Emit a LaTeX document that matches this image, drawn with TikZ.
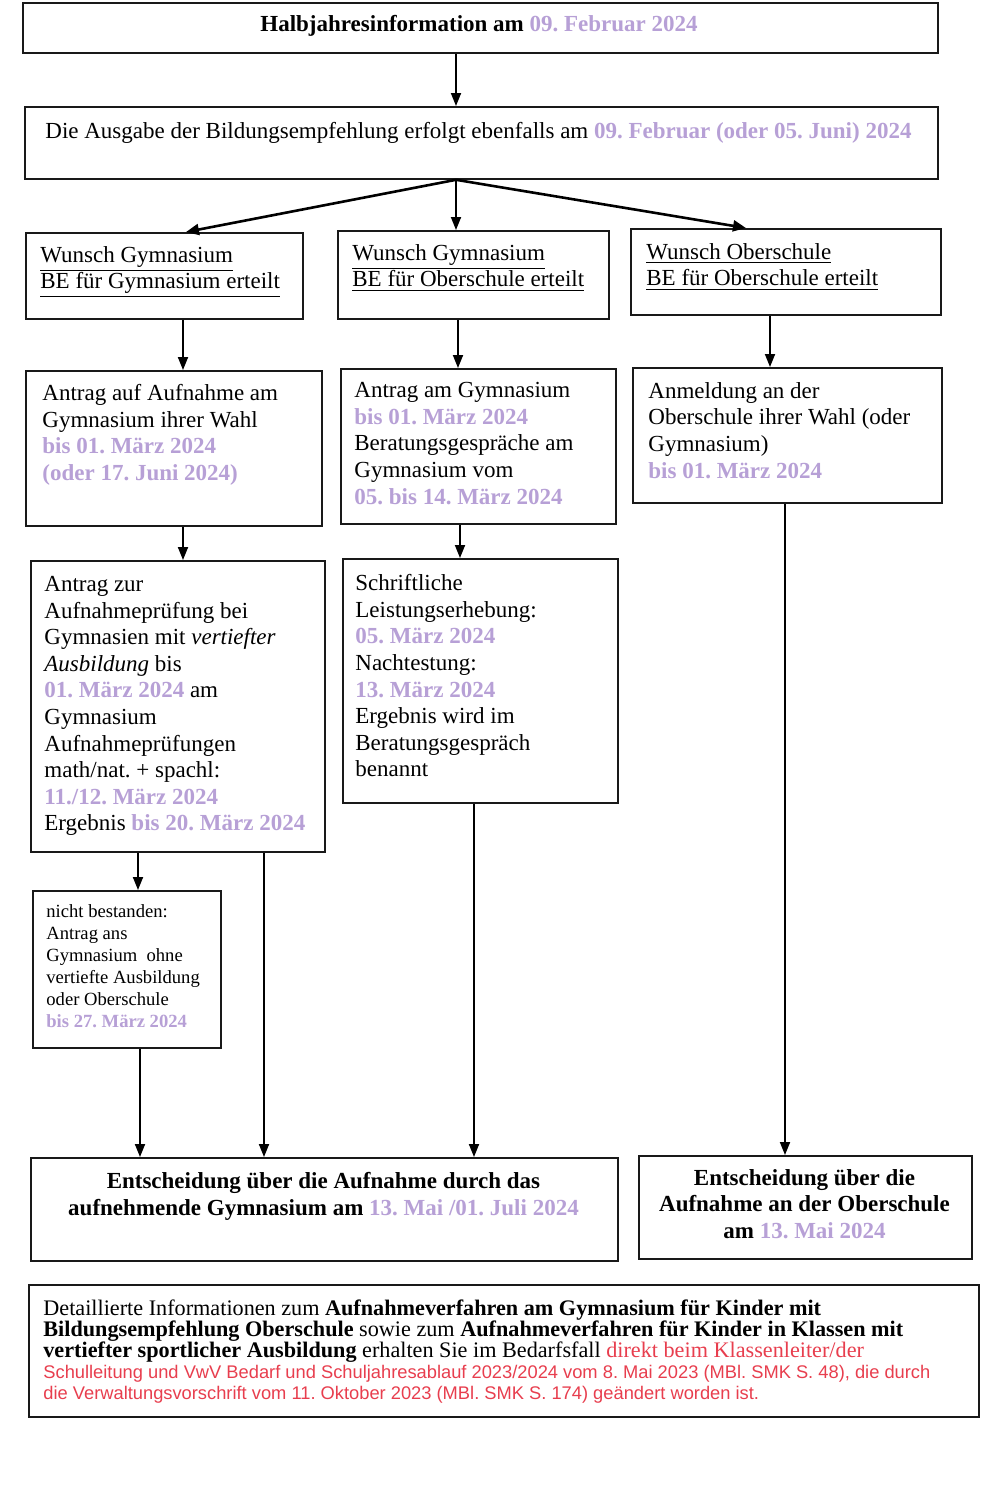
\documentclass[tikz,border=0pt]{standalone}
\usepackage{fontspec}
\setmainfont{Liberation Serif}
\newfontfamily\arialfont{Liberation Sans}
\usetikzlibrary{arrows.meta}
\frenchspacing
\definecolor{lila}{RGB}{183,160,214}
\definecolor{rotx}{RGB}{232,62,78}
\newcommand{\dat}[1]{\textbf{\textcolor{lila}{#1}}}
\tikzset{
  bx/.style={draw=black!90, line width=0.9pt, inner sep=0pt, anchor=north west},
  txt/.style={anchor=north west, inner sep=0pt, align=left, font=\fontsize{11.5}{13.3}\selectfont},
  ctxt/.style={anchor=north, inner sep=0pt, align=center, font=\fontsize{11.5}{13.3}\selectfont\bfseries},
  arr/.style={line width=0.9pt, -{Triangle[length=6.5pt,width=5pt]}},
  fan/.style={line width=1.3pt, -{Triangle[length=6.5pt,width=5.5pt]}}
}
\begin{document}
\begin{tikzpicture}[x=0.5pt,y=-0.5pt]
\useasboundingbox (0,0) rectangle (1000,1500);
\fill[white] (0,0) rectangle (1000,1500);
% boxes
\node[bx, minimum width=457.5pt, minimum height=25pt] (top) at (22,2) {};
\node[bx, minimum width=456.5pt, minimum height=36pt] (ausg) at (24,106) {};
\node[bx, minimum width=138.5pt, minimum height=43pt] (a1) at (25,232) {};
\node[bx, minimum width=135.5pt, minimum height=44pt] (b1) at (337,230) {};
\node[bx, minimum width=155pt, minimum height=43pt] (c1) at (630,228) {};
\node[bx, minimum width=148pt, minimum height=77.5pt] (a2) at (25,370) {};
\node[bx, minimum width=137.5pt, minimum height=77.5pt] (b2) at (340,368) {};
\node[bx, minimum width=154.5pt, minimum height=67.5pt] (c2) at (632,367) {};
\node[bx, minimum width=147pt, minimum height=145.5pt] (a3) at (30,560) {};
\node[bx, minimum width=137.5pt, minimum height=122pt] (b3) at (342,558) {};
\node[bx, minimum width=94pt, minimum height=78.5pt] (a4) at (32,890) {};
\node[bx, minimum width=293.5pt, minimum height=51.5pt] (f1) at (30,1157) {};
\node[bx, minimum width=166.5pt, minimum height=51.5pt] (f2) at (638,1155) {};
\node[bx, minimum width=475pt, minimum height=66pt] (bot) at (28,1284) {};
% texts
\node[ctxt, anchor=center] (ttop) at (479,26) {Halbjahresinformation am \textcolor{lila}{09. Februar 2024}};
\node[txt] (tausg) at (45,122) {Die Ausgabe der Bildungsempfehlung erfolgt ebenfalls am \dat{09. Februar (oder 05. Juni) 2024}};
\node[txt] (ta1) at (40,246) {\underline{Wunsch Gymnasium}\\\underline{BE für Gymnasium erteilt}};
\node[txt] (tb1) at (352,244) {\underline{Wunsch Gymnasium}\\\underline{BE für Oberschule erteilt}};
\node[txt] (tc1) at (646,243) {\underline{Wunsch Oberschule}\\\underline{BE für Oberschule erteilt}};
\node[txt] (ta2) at (42,384) {Antrag auf Aufnahme am\\Gymnasium ihrer Wahl\\\dat{bis 01. März 2024}\\\dat{(oder 17. Juni 2024)}};
\node[txt] (tb2) at (354,382) {Antrag am Gymnasium\\\dat{bis 01. März 2024}\\Beratungsgespräche am\\Gymnasium vom\\\dat{05. bis 14. März 2024}};
\node[txt] (tc2) at (648,382) {Anmeldung an der\\Oberschule ihrer Wahl (oder\\Gymnasium)\\\dat{bis 01. März 2024}};
\node[txt] (ta3) at (44,576) {Antrag zur\\Aufnahmeprüfung bei\\Gymnasien mit \textit{vertiefter}\\\textit{Ausbildung} bis\\\dat{01. März 2024} am\\Gymnasium\\Aufnahmeprüfungen\\math/nat. + spachl:\\\dat{11./12. März 2024}\\Ergebnis \dat{bis 20. März 2024}};
\node[txt] (tb3) at (355,574) {Schriftliche\\Leistungserhebung:\\\dat{05. März 2024}\\Nachtestung:\\\dat{13. März 2024}\\Ergebnis wird im\\Beratungsgespräch\\benannt};
\node[txt, font=\fontsize{9.3}{11}\selectfont] (ta4) at (46,904) {nicht bestanden:\\Antrag ans\\Gymnasium\ \ ohne\\vertiefte Ausbildung\\oder Oberschule\\\dat{bis 27. März 2024}};
\node[ctxt] (tf1) at (323.5,1172) {Entscheidung über die Aufnahme durch das\\aufnehmende Gymnasium am \textcolor{lila}{13. Mai /01. Juli 2024}};
\node[ctxt] (tf2) at (804.5,1169) {Entscheidung über die\\Aufnahme an der Oberschule\\am \textcolor{lila}{13. Mai 2024}};
\node[txt, font=\fontsize{11.1}{10.6}\selectfont] (tbot) at (43,1299) {Detaillierte Informationen zum \textbf{Aufnahmeverfahren am Gymnasium für Kinder mit}\\\textbf{Bildungsempfehlung Oberschule} sowie zum \textbf{Aufnahmeverfahren für Kinder in Klassen mit}\\\textbf{vertiefter sportlicher Ausbildung} erhalten Sie im Bedarfsfall \textcolor{rotx}{direkt beim Klassenleiter/der}\\{\arialfont\fontsize{9.15}{10.6}\selectfont\color{rotx}Schulleitung und VwV Bedarf und Schuljahresablauf 2023/2024 vom 8. Mai 2023 (MBl. SMK S. 48), die durch}\\{\arialfont\fontsize{9.15}{10.6}\selectfont\color{rotx}die Verwaltungsvorschrift vom 11. Oktober 2023 (MBl. SMK S. 174) geändert worden ist.}};
% column coordinates
\coordinate (xm) at (456,0);
\coordinate (xa) at (183,0);
\coordinate (xb) at (458,0);
\coordinate (xc) at (770,0);
\coordinate (xfa) at (186,0);
\coordinate (xfc) at (746,0);
\coordinate (xb2) at (460,0);
\coordinate (xa3) at (138,0);
\coordinate (xa3b) at (264,0);
\coordinate (xa4) at (140,0);
\coordinate (xb3) at (474,0);
\coordinate (xc2) at (785,0);
% connectors
\draw[arr] (top.south -| xm) -- (ausg.north -| xm);
\draw[fan] (ausg.south -| xm) -- (a1.north -| xfa);
\draw[arr] (ausg.south -| xm) -- (b1.north -| xm);
\draw[fan] (ausg.south -| xm) -- (c1.north -| xfc);
\draw[arr] (a1.south -| xa) -- (a2.north -| xa);
\draw[arr] (b1.south -| xb) -- (b2.north -| xb);
\draw[arr] (c1.south -| xc) -- (c2.north -| xc);
\draw[arr] (a2.south -| xa) -- (a3.north -| xa);
\draw[arr] (b2.south -| xb2) -- (b3.north -| xb2);
\draw[arr] (a3.south -| xa3) -- (a4.north -| xa3);
\draw[arr] (a3.south -| xa3b) -- (f1.north -| xa3b);
\draw[arr] (a4.south -| xa4) -- (f1.north -| xa4);
\draw[arr] (b3.south -| xb3) -- (f1.north -| xb3);
\draw[arr] (c2.south -| xc2) -- (f2.north -| xc2);
\end{tikzpicture}
\end{document}
